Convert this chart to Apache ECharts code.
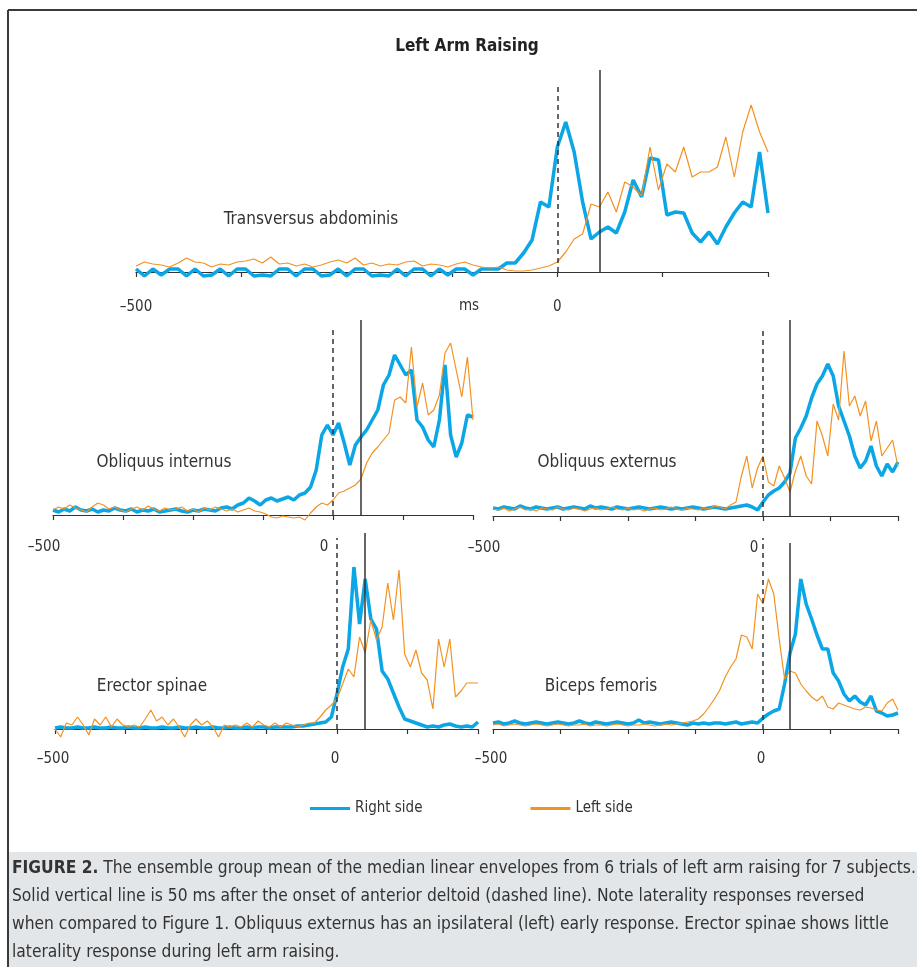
<!DOCTYPE html>
<html>
<head>
<meta charset="utf-8">
<title>Left Arm Raising</title>
<script src="https://cdn.jsdelivr.net/npm/echarts@6/dist/echarts.min.js"></script>
<style>
  html, body { margin: 0; padding: 0; background: #fff; }
  #chart { width: 917px; height: 967px; }
</style>
</head>
<body>
<div id="chart"></div>
<script>
// time base, ms relative to anterior deltoid onset
var times = [
  -500, -490, -480, -470, -460, -450, -440, -430, -420, -410,
  -400, -390, -380, -370, -360, -350, -340, -330, -320, -310,
  -300, -290, -280, -270, -260, -250, -240, -230, -220, -210,
  -200, -190, -180, -170, -160, -150, -140, -130, -120, -110,
  -100, -90, -80, -70, -60, -50, -40, -30, -20, -10,
  0, 10, 20, 30, 40, 50, 60, 70, 80, 90,
  100, 110, 120, 130, 140, 150, 160, 170, 180, 190,
  200, 210, 220, 230, 240, 250
];
var onsetMs = 0;
var afterMs = 50;
var tickLabels = { '-500': '\u2013500', '0': '0' };

// Transversus abdominis
var taRight = [
  3, -4, 3, -3, 3, 3, -4, 3, -4, -3,
  3, -4, 3, 3, -4, -3, -4, 3, 3, -4,
  3, 3, -4, -3, 3, -4, 3, 3, -4, -3,
  -4, 3, -4, 3, 3, -4, 3, -3, 3, 3,
  -3, 3, 3, 3, 9, 9, 19, 32, 70, 65,
  125, 150, 120, 70, 33, 40, 45, 39, 60, 92,
  75, 114, 112, 57, 60, 59, 39, 30, 40, 28,
  45, 59, 70, 65, 120, 59
];
var taLeft = [
  6, 10, 8, 7, 5, 9, 14, 10, 9, 5,
  8, 7, 10, 11, 13, 9, 15, 8, 9, 6,
  8, 5, 7, 10, 12, 9, 14, 7, 9, 6,
  8, 7, 10, 11, 6, 8, 7, 5, 8, 10,
  7, 5, 4, 5, 2, 1, 1, 2, 4, 6,
  10, 20, 33, 38, 68, 65, 80, 60, 90, 85,
  76, 125, 82, 108, 100, 125, 95, 100, 100, 105,
  135, 95, 140, 167, 140, 120
];
// Obliquus internus
var oiRight = [
  5, 3, 6, 4, 8, 5, 4, 6, 3, 5,
  4, 7, 5, 4, 6, 3, 5, 4, 6, 3,
  4, 5, 6, 4, 3, 5, 4, 6, 5, 4,
  7, 8, 6, 10, 12, 17, 14, 10, 15, 17,
  14, 16, 18, 15, 20, 22, 28, 45, 80, 90,
  80, 92, 72, 50, 70, 78, 85, 95, 105, 130,
  140, 160, 150, 140, 145, 95, 88, 75, 68, 95,
  150, 80, 58, 72, 100, 98
];
var oiLeft = [
  5, 8, 6, 10, 7, 5, 3, 8, 12, 10,
  6, 8, 5, 3, 6, 8, 5, 9, 6, 4,
  7, 5, 6, 8, 4, 6, 3, 7, 5, 8,
  6, 4, 6, 3, 5, 7, 4, 3, 1, -2,
  -3, -1, -2, -3, -2, -5, 2, 8, 12, 10,
  15, 22, 24, 27, 30, 36, 52, 62, 68, 75,
  82, 115, 118, 112, 168, 108, 132, 100, 105, 120,
  162, 172, 145, 118, 158, 95
];
// Obliquus externus
var oeRight = [
  8, 7, 9, 8, 7, 10, 8, 7, 9, 8,
  7, 8, 9, 7, 8, 9, 8, 7, 10, 8,
  9, 8, 7, 9, 8, 7, 8, 9, 8, 7,
  8, 9, 8, 7, 8, 7, 8, 9, 8, 7,
  8, 9, 8, 7, 8, 9, 10, 11, 9, 6,
  14, 21, 25, 28, 34, 43, 78, 88, 100, 118,
  132, 140, 152, 140, 110, 95, 80, 60, 48, 55,
  70, 50, 40, 52, 44, 54
];
var oeLeft = [
  7, 6, 8, 5, 7, 9, 6, 7, 5, 8,
  7, 6, 9, 7, 6, 8, 7, 5, 7, 8,
  6, 7, 9, 7, 6, 8, 6, 7, 5, 7,
  8, 6, 7, 9, 7, 6, 8, 7, 6, 8,
  7, 10, 9, 7, 11, 14, 40, 60, 28, 48,
  60, 34, 30, 50, 38, 24, 45, 60, 40, 32,
  95, 80, 60, 112, 96, 165, 110, 120, 100, 115,
  75, 95, 60, 68, 76, 49
];
// Erector spinae
var esRight = [
  1, 2, 1, 1, 2, 1, 1, 2, 1, 1,
  2, 1, 1, 2, 1, 1, 2, 1, 1, 2,
  1, 1, 2, 1, 1, 2, 1, 1, 2, 1,
  1, 2, 1, 1, 2, 1, 2, 2, 1, 2,
  2, 2, 2, 3, 3, 4, 5, 6, 7, 12,
  35, 62, 80, 162, 105, 150, 110, 100, 58, 50,
  36, 22, 10, 8, 6, 4, 2, 3, 2, 4,
  5, 3, 2, 3, 2, 7
];
var esLeft = [
  0, -8, 6, 4, 12, 4, -6, 10, 4, 12,
  2, 10, 4, 2, 4, 2, 10, 19, 8, 12,
  4, 10, 2, -8, 4, 10, 4, 8, 2, -8,
  4, 2, 4, 2, 6, 2, 8, 4, 2, 6,
  2, 6, 4, 2, 4, 6, 6, 12, 19, 24,
  30, 45, 60, 52, 92, 76, 109, 89, 102, 146,
  109, 159, 75, 62, 79, 56, 49, 20, 90, 62,
  90, 32, 38, 46, 46, 46
];
// Biceps femoris
var bfRight = [
  6, 7, 5, 6, 8, 6, 5, 6, 7, 6,
  5, 6, 7, 6, 5, 6, 8, 6, 5, 7,
  6, 5, 6, 7, 6, 5, 6, 9, 6, 7,
  6, 5, 6, 7, 6, 5, 4, 6, 5, 6,
  5, 6, 6, 5, 6, 7, 5, 6, 7, 6,
  11, 15, 18, 20, 45, 76, 95, 150, 125, 110,
  94, 80, 80, 56, 48, 35, 28, 33, 27, 24,
  33, 18, 16, 13, 14, 16
];
var bfLeft = [
  4, 5, 3, 4, 5, 4, 3, 4, 5, 4,
  3, 4, 5, 4, 3, 4, 4, 5, 3, 4,
  4, 3, 4, 5, 4, 3, 4, 4, 5, 4,
  3, 4, 5, 4, 5, 6, 7, 8, 10, 15,
  22, 30, 39, 52, 62, 70, 94, 92, 80, 135,
  125, 150, 135, 90, 50, 58, 56, 45, 38, 32,
  28, 33, 22, 20, 26, 24, 22, 20, 19, 22,
  21, 19, 18, 26, 30, 19
];

var FONT = '"Liberation Sans Narrow", "DejaVu Sans Condensed", "Roboto Condensed", sans-serif';
var INK = '#333333';
var BLUE = '#0aa6e6';
var ORANGE = '#f39121';

function pairs(vals) {
  return times.map(function (t, i) { return [t, vals[i]]; });
}

// one entry per panel: data, grid box, height of the two vertical lines
var panels = [
  { right: taRight, left: taLeft,
    grid: { left: 136, right: 149, top: 62, bottom: 695 }, ymax: 210,
    dash: 185, solid: 202, labelMargin: 28, labelPad: [0, 0, 0, 0], showName: true },
  { right: oiRight, left: oiLeft,
    grid: { left: 53, right: 444, top: 315, bottom: 452 }, ymax: 200,
    dash: 185, solid: 195, labelMargin: 25, labelPad: [0, 18, 0, 0] },
  { right: oeRight, left: oeLeft,
    grid: { left: 493, right: 19, top: 316, bottom: 451 }, ymax: 200,
    dash: 186, solid: 196, labelMargin: 25, labelPad: [0, 18, 0, 0] },
  { right: esRight, left: esLeft,
    grid: { left: 55, right: 439, top: 529, bottom: 238 }, ymax: 200,
    dash: 191, solid: 196, labelMargin: 23, labelPad: [0, 4, 0, 0] },
  { right: bfRight, left: bfLeft,
    grid: { left: 493, right: 19, top: 529, bottom: 238 }, ymax: 200,
    dash: 191, solid: 186, labelMargin: 23, labelPad: [0, 4, 0, 0] }
];

var grids = [], xAxes = [], yAxes = [], series = [];
panels.forEach(function (p, i) {
  grids.push(p.grid);
  xAxes.push({
    type: 'value', gridIndex: i, min: -500, max: 250, interval: 125,
    axisLine: { onZero: false, lineStyle: { color: INK, width: 1.2 } },
    axisTick: { show: true, length: 5, lineStyle: { color: INK, width: 1.2 } },
    splitLine: { show: false },
    axisLabel: {
      margin: p.labelMargin, color: INK, fontFamily: FONT, fontSize: 15,
      padding: p.labelPad,
      formatter: function (v) { return tickLabels[String(v)] || ''; }
    },
    name: p.showName ? 'ms' : '',
    nameLocation: 'middle', nameGap: 27, nameMoveOverlap: false,
    nameTextStyle: { color: INK, fontFamily: FONT, fontSize: 15, padding: [0, 0, 0, 34] }
  });
  yAxes.push({ type: 'value', gridIndex: i, min: 0, max: p.ymax, show: false });
  series.push({
    name: 'Right side', type: 'line', xAxisIndex: i, yAxisIndex: i,
    data: pairs(p.right), showSymbol: false, symbol: 'none', clip: false,
    lineStyle: { color: BLUE, width: 3.5 }, itemStyle: { color: BLUE },
    markLine: {
      silent: true, symbol: 'none', label: { show: false },
      data: [
        [{ coord: [onsetMs, 0], lineStyle: { type: [5, 4], color: INK, width: 1.5 } },
         { coord: [onsetMs, p.dash] }],
        [{ coord: [afterMs, 0], lineStyle: { type: 'solid', color: INK, width: 1.5 } },
         { coord: [afterMs, p.solid] }]
      ]
    }
  });
  series.push({
    name: 'Left side', type: 'line', xAxisIndex: i, yAxisIndex: i,
    data: pairs(p.left), showSymbol: false, symbol: 'none', clip: false,
    lineStyle: { color: ORANGE, width: 1.2 }, itemStyle: { color: ORANGE }
  });
});

var captionLines = [
  '{b|FIGURE 2.} The ensemble group mean of the median linear envelopes from 6 trials of left arm raising for 7 subjects.',
  'Solid vertical line is 50 ms after the onset of anterior deltoid (dashed line). Note laterality responses reversed',
  'when compared to Figure 1. Obliquus externus has an ipsilateral (left) early response. Erector spinae shows little',
  'laterality response during left arm raising.'
];

var graphics = [
  // frame and caption box
  { type: 'rect', shape: { x: 9, y: 852, width: 908, height: 115 }, style: { fill: '#e2e6e9' }, silent: true },
  { type: 'line', shape: { x1: 8, y1: 10, x2: 917, y2: 10 }, style: { stroke: '#3a3a3a', lineWidth: 2 }, silent: true },
  { type: 'line', shape: { x1: 8, y1: 10, x2: 8, y2: 967 }, style: { stroke: '#3a3a3a', lineWidth: 2 }, silent: true },
  { type: 'text', x: 467, y: 47, style: { text: 'Left Arm Raising', font: 'bold 17px ' + FONT, fill: '#222', align: 'center', verticalAlign: 'middle' } },
  { type: 'text', x: 311, y: 220, style: { text: 'Transversus abdominis', font: '17px ' + FONT, fill: INK, align: 'center', verticalAlign: 'middle' } },
  { type: 'text', x: 164, y: 463, style: { text: 'Obliquus internus', font: '17px ' + FONT, fill: INK, align: 'center', verticalAlign: 'middle' } },
  { type: 'text', x: 607, y: 463, style: { text: 'Obliquus externus', font: '17px ' + FONT, fill: INK, align: 'center', verticalAlign: 'middle' } },
  { type: 'text', x: 152, y: 687, style: { text: 'Erector spinae', font: '17px ' + FONT, fill: INK, align: 'center', verticalAlign: 'middle' } },
  { type: 'text', x: 601, y: 687, style: { text: 'Biceps femoris', font: '17px ' + FONT, fill: INK, align: 'center', verticalAlign: 'middle' } }
];
captionLines.forEach(function (line, i) {
  graphics.push({
    type: 'text', x: 12, y: 869 + i * 27.7,
    style: {
      text: line, fontFamily: FONT, fontSize: 17.25, fill: INK,
      align: 'left', verticalAlign: 'middle',
      rich: { b: { fontFamily: FONT, fontSize: 17.25, fontWeight: 'bold', fill: INK } }
    }
  });
});

var chart = echarts.init(document.getElementById('chart'));
chart.setOption({
  animation: false,
  backgroundColor: '#ffffff',
  grid: grids,
  xAxis: xAxes,
  yAxis: yAxes,
  series: series,
  legend: {
    data: ['Right side', 'Left side'],
    left: 305, top: 796, icon: 'rect', itemWidth: 40, itemHeight: 3, itemGap: 108,
    textStyle: { color: INK, fontFamily: FONT, fontSize: 15 }
  },
  graphic: graphics
});
</script>
</body>
</html>
